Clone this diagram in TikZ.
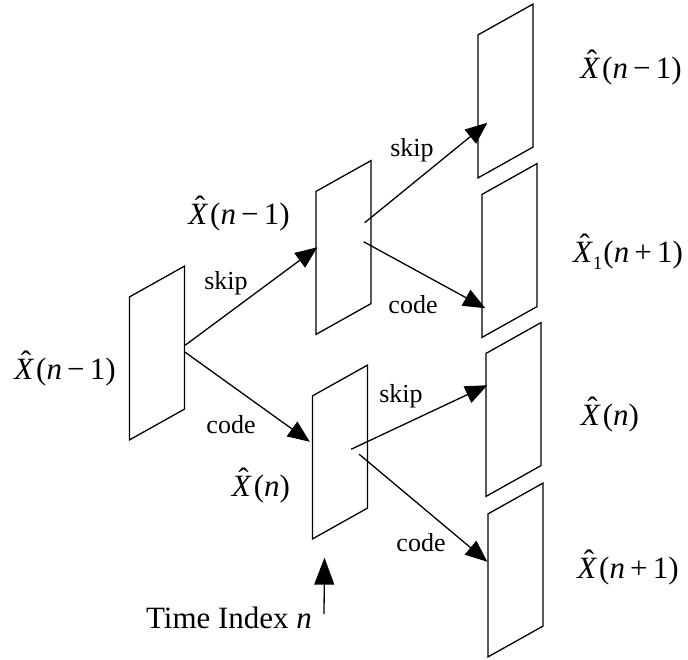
\documentclass[tikz,border=0pt]{standalone}
\usepackage{fontspec}
\setmainfont{Liberation Serif}
\usetikzlibrary{arrows.meta,calc}
% italic X with a hat, set in the text font
\newcommand\xh{\makebox[0pt][l]{\kern6.5pt\raisebox{7pt}{\char"02C6}}\textit{X}\kern2pt}
\newcommand\mn{\,\char"2212\,}
\newcommand\pl{\,+\,}
\tikzset{
  arr/.style={-{Triangle[length=22pt,width=18pt]},line width=1.3pt},
  tarr/.style={-{Triangle[length=27pt,width=20pt]},line width=1.3pt},
  pbox/.style={draw,line width=1.3pt,minimum width=55pt,minimum height=143pt,
    inner sep=0pt,yslant=0.56},
  lbl/.style={font=\fontsize{26}{30}\selectfont,inner sep=0pt},
  mlbl/.style={font=\fontsize{31}{34}\selectfont,inner sep=0pt},
}
\begin{document}
\begin{tikzpicture}[x=1pt,y=-1pt]
\useasboundingbox (0,0) rectangle (688,659);

% frames
\node[pbox] (b1) at (157,353) {};
\node[pbox] (b2) at (343.5,247.5) {};
\node[pbox] (b3) at (340,452) {};
\node[pbox] (r1) at (505.5,91) {};
\node[pbox] (r2) at (509.5,250.5) {};
\node[pbox] (r3) at (513.5,409.5) {};
\node[pbox] (r4) at (515.5,570) {};

% labels
\node[mlbl] (l0) at (65,369) {\xh(\textit{n}\mn 1)};
\node[mlbl] (l1) at (239,214) {\xh(\textit{n}\mn 1)};
\node[mlbl] (l2) at (261,486) {\xh(\textit{n})};
\node[mlbl] (o1) at (631,68) {\xh(\textit{n}\mn 1)};
\node[mlbl] (o2) at (628,252) {\xh\kern-2pt\raisebox{-7pt}{\fontsize{19}{20}\selectfont 1}\kern1pt(\textit{n}\pl 1)};
\node[mlbl] (o3) at (610,415) {\xh(\textit{n})};
\node[mlbl] (o4) at (628,568) {\xh(\textit{n}\pl 1)};

\node[lbl] (s1) at (226,283) {skip};
\node[lbl] (c1) at (231,425) {code};
\node[lbl] (s2) at (412,150) {skip};
\node[lbl] (c2) at (413,305) {code};
\node[lbl] (s3) at (401,396) {skip};
\node[lbl] (c3) at (421,543) {code};

\node[mlbl] (time) at (229,618) {Time Index \textit{n}};
\coordinate (tbot) at (324,614);

% branches
\draw[arr] ([yshift=-8pt]b1.east) -- ([xshift=2pt,yshift=16pt]b2.west);
\draw[arr] ([yshift=-15pt]b1.east) -- ([xshift=-2pt,yshift=26pt]b3.west);
\draw[arr] ([xshift=-7pt,yshift=9pt]b2.east) -- ([xshift=10pt,yshift=-16pt]r1.west);
\draw[arr] ([xshift=-8pt,yshift=-10pt]b2.east) -- ([xshift=4pt,yshift=-42pt]r2.west);
\draw[arr] ([xshift=-17pt,yshift=-13pt]b3.east) -- ([xshift=2pt,yshift=40pt]r3.west);
\draw[arr] ([xshift=-9pt,yshift=-18pt]b3.east) -- ([yshift=24pt]r4.west);
\draw[tarr] (tbot) -- ([xshift=-15.5pt,yshift=-33.5pt]b3.south);
\end{tikzpicture}
\end{document}
